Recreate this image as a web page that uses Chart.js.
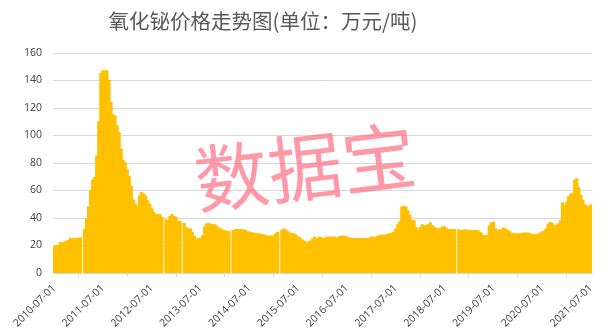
<!DOCTYPE html>
<html>
<head>
<meta charset="utf-8">
<script src="https://cdn.jsdelivr.net/npm/chart.js@4"></script>
<style>
  html, body { margin: 0; padding: 0; background: #fff; }
  #wrap { width: 611px; height: 336px; position: relative; }
</style>
</head>
<body>
<div id="wrap"><canvas id="bi-price"></canvas></div>
<script>
// half-monthly prices from 2010-07-01, 万元/吨 (null = missing)
var startYear = 2010, startMonth = 7;
var prices = [
  19, 20, 20, 22, 22, 22, 23, 23.5, 25, 25,
  25, 25, 25, 25.5, null, 31.5, 39, 48, 60, 67.5,
  69.5, 85, 110, 145, 147, 147, 147, 140, 124, 115,
  114, 107, 102, 90, 82, 80, 75, 70, 63, 53,
  50, 48, 56, 58.5, 57.5, 56, 52.5, 50, 47, 44,
  42.5, 42.5, 42.5, 40.5, null, 38.5, 38, 41, 42.5, 41,
  40.5, 37.5, 37.5, null, 36, 33, 32, 32, 29.5, 26.5,
  25, 25, 25, 27, 33.5, 35.5, 36, 35.5, 35.2, 35,
  34, 32.5, 32, 31, 30.8, 30.3, 30, null, 30.7, 31.3,
  31.5, 31.5, 31.5, 31.5, 31, 29.8, 29.8, 29.2, 29, 28.8,
  28.4, 28.4, 28, 27.6, 27.4, 26.7, 26.7, 26.8, 27, 28.4,
  29.5, null, 31, 32, 31, 29.8, 29, 28.6, 28.4, 27.5,
  26, 25.5, 24, 23, 22.3, 22.3, 23, 24.5, 26, 25,
  25.5, 26, 25.2, 25, 26, 26, 26, 26, 26, 25.5,
  26, 26.7, 26.7, 26.7, 26, 25.5, 25, 25, 25, 25,
  25, 25, 25, 25, 25, 25.3, 26, 26, 26, 26.5,
  27, 27.4, 27.4, 27.4, 27.9, 28.5, 28.8, 29.6, 32, 35,
  37, 47.8, 48.5, 48, 45, 42, 38, 38, 33, 30.5,
  33, 35, 34.4, 34.4, 35, 36.4, 34.4, 33, 32.2, 32.2,
  32.2, 33.5, 33.5, 32.2, 31.5, 31.5, 31.5, 31.5, null, 31.5,
  30.8, 31, 31.5, 31.2, 30.8, 30.8, 30.8, 30.8, 30.8, 30,
  29, 27.2, 27.2, 27.2, 34, 36.4, 37, 32, 30.5, 31.5,
  31, 32.7, 32, 31, 30, 29, 28.2, 28.5, 28.4, 28.4,
  28.6, 29, 29, 29, 28.6, 27.9, 27.9, 27.9, 28.3, 29,
  29.8, 30.5, 32, 35.5, 36.8, 35.9, 34.6, 34.4, 35.8, 38,
  51, 49, 51.5, 55.5, 57.2, 57.8, 67.5, 68.5, 62, 56.5,
  53, 49.5, 48.5, 48.2, 49.5
];
var tickLabels = ['2010-07-01', '2011-07-01', '2012-07-01', '2013-07-01', '2014-07-01', '2015-07-01',
  '2016-07-01', '2017-07-01', '2018-07-01', '2019-07-01', '2020-07-01', '2021-07-01'];
var yTicks = [0, 20, 40, 60, 80, 100, 120, 140, 160];

var titleText = '氧化铋价格走势图(单位：万元/吨)';
var markText = '数据宝';

// category labels: 1st and 16th of each month
var dates = [];
for (var i = 0; i < prices.length; i++) {
  var m = startMonth - 1 + Math.floor(i / 2);
  var y = startYear + Math.floor(m / 12);
  var mm = (m % 12) + 1;
  dates.push(y + '-' + (mm < 10 ? '0' : '') + mm + '-' + (i % 2 ? '16' : '01'));
}

var overlay = {
  id: 'overlay',
  afterDraw: function(chart) {
    var ctx = chart.ctx;
    ctx.save();
    ctx.textAlign = 'center';
    ctx.textBaseline = 'middle';
    ctx.fillStyle = '#595959';
    ctx.font = '20.5px "Noto Sans CJK SC"';
    ctx.fillText(titleText, 263, 21);
    ctx.translate(305, 167);
    ctx.rotate(-7 * Math.PI / 180);
    ctx.fillStyle = 'rgba(255, 110, 130, 0.7)';
    ctx.font = '74px "Noto Sans CJK SC"';
    ctx.fillText(markText, 0, 0);
    ctx.restore();
  }
};

new Chart(document.getElementById('bi-price'), {
  type: 'bar',
  data: {
    labels: dates,
    datasets: [{
      label: '氧化铋',
      data: prices,
      backgroundColor: '#FFC000',
      borderWidth: 0,
      inflateAmount: 0.6,
      barPercentage: 1,
      categoryPercentage: 1
    }]
  },
  options: {
    responsive: true,
    maintainAspectRatio: false,
    animation: false,
    layout: { padding: { left: 0, right: 19, top: 53, bottom: 0 } },
    plugins: { legend: { display: false }, tooltip: { enabled: false }, title: { display: false } },
    scales: {
      x: {
        afterFit: function(s) { s.height = 63; },
        grid: { drawOnChartArea: false, color: '#D9D9D9', tickLength: 4 },
        border: { color: '#D9D9D9' },
        ticks: {
          autoSkip: false,
          maxRotation: 45,
          minRotation: 45,
          padding: 5,
          color: '#404040',
          font: { family: 'Open Sans', size: 10.5 },
          callback: function(v) {
            var lab = this.getLabelForValue(v);
            return tickLabels.indexOf(lab) >= 0 ? lab : null;
          }
        }
      },
      y: {
        min: yTicks[0],
        max: yTicks[yTicks.length - 1],
        afterFit: function(s) { s.width = 53; },
        grid: { color: '#D9D9D9', drawTicks: false },
        border: { display: false },
        ticks: {
          stepSize: 20,
          padding: 11,
          color: '#404040',
          font: { family: 'Open Sans', size: 10.5 }
        }
      }
    }
  },
  plugins: [overlay]
});
</script>
</body>
</html>
